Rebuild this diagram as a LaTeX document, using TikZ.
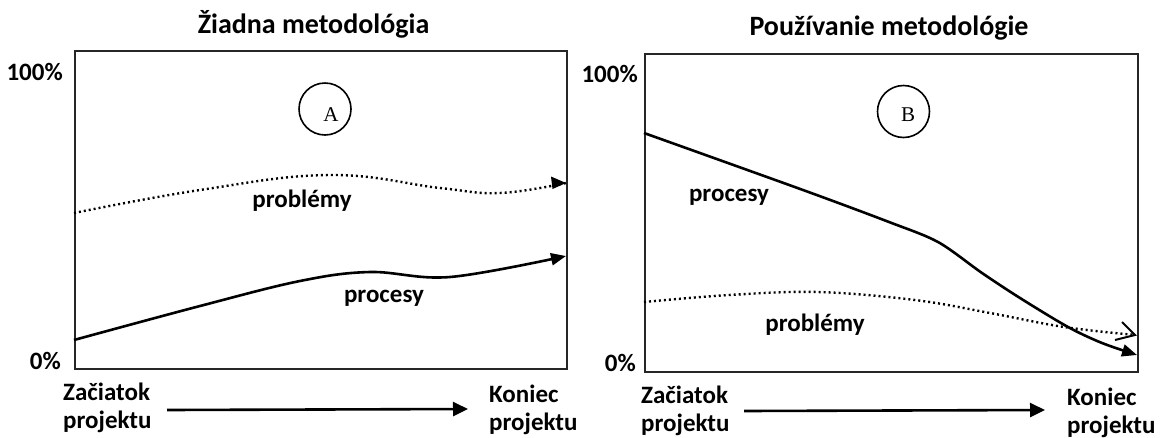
\documentclass[tikz,border=0pt]{standalone}
\usepackage{fontspec}
\setmainfont{Carlito}
\newfontfamily\serifA{Liberation Serif}
\usetikzlibrary{arrows.meta}
\begin{document}
\begin{tikzpicture}[x=1pt,y=-1pt,
  lbl/.style={font=\bfseries\fontsize{25}{28}\selectfont, inner sep=0pt, align=left},
  ttl/.style={font=\bfseries\fontsize{28}{30}\selectfont, inner sep=0pt},
  frame/.style={draw=black!85, line width=2pt},
  curve/.style={line width=2.6pt, -{Triangle[length=15pt,width=12pt]}},
  dots/.style={line width=2.4pt, dash pattern=on 2pt off 3pt},
  circ/.style={circle, draw, line width=1.6pt, minimum size=52pt, inner sep=0pt},
  letter/.style={font=\serifA\fontsize{21}{22}\selectfont, inner sep=0pt},
  axarr/.style={line width=2.6pt, -{Triangle[length=15pt,width=14pt]}}]
\useasboundingbox (0,0) rectangle (1161,437);
\fill[white] (0,0) rectangle (1161,437);

% ---------- left panel ----------
\node[ttl, anchor=base] (t1) at (313.5,33) {Žiadna metodológia};
\node[frame, draw, inner sep=0pt, minimum width=492pt, minimum height=318pt, anchor=north west] (box1) at (74,50) {};
\node[lbl, anchor=base east] (h1) at (63,80) {100\%};
\node[lbl, anchor=base east] (z1) at (61,369) {0\%};
\node[circ] (cA) at (325,109) {};
\node[letter] (lA) at (331,115) {A};

\coordinate (p1a) at (74,213);
\coordinate (p1b) at (200,190);
\coordinate (p1c) at (330,175);
\coordinate (p1d) at (440,188);
\coordinate (p1e) at (500,193);
\coordinate (p1f) at (566,183);
\draw[dots] plot[smooth, tension=0.7] coordinates {(p1a) (p1b) (p1c) (p1d) (p1e) (p1f)};
\fill (p1f) -- ++(-15,-6.5) -- ++(1.5,12.5) -- cycle;
\node[lbl, anchor=base] (lp1) at (302,207) {problémy};

\coordinate (r1a) at (74,340);
\coordinate (r1b) at (200,306);
\coordinate (r1c) at (300,281);
\coordinate (r1d) at (370,272);
\coordinate (r1e) at (450,277);
\coordinate (r1f) at (566,256);
\draw[curve] plot[smooth, tension=0.6] coordinates {(r1a) (r1b) (r1c) (r1d) (r1e) (r1f)};
\node[lbl, anchor=base] (lr1) at (384,302) {procesy};

\node[lbl, anchor=base west] (s1) at (63,428) {Začiatok\\projektu};
\node[lbl, anchor=base west] (e1) at (489,430) {Koniec\\projektu};
\coordinate (a1s) at (167,410);
\coordinate (a1e) at (468,409);
\draw[axarr] (a1s) -- (a1e);

% ---------- right panel ----------
\node[ttl, anchor=base] (t2) at (889,35) {Používanie metodológie};
\node[frame, draw, inner sep=0pt, minimum width=493pt, minimum height=318pt, anchor=north west] (box2) at (644,53) {};
\node[lbl, anchor=base east] (h2) at (638,82) {100\%};
\node[lbl, anchor=base east] (z2) at (636,371) {0\%};
\node[circ] (cB) at (903.5,111.5) {};
\node[letter] (lB) at (908,115) {B};

\coordinate (r2a) at (644,133);
\coordinate (r2b) at (803,190);
\coordinate (r2c) at (889,222);
\coordinate (r2d) at (938,242);
\coordinate (r2e) at (982,273);
\coordinate (r2f) at (1020,298);
\coordinate (r2g) at (1068,327);
\coordinate (r2h) at (1102,343);
\coordinate (r2i) at (1137,355);
\draw[curve] plot[smooth, tension=0.5] coordinates {(r2a) (r2b) (r2c) (r2d) (r2e) (r2f) (r2g) (r2h) (r2i)};
\node[lbl, anchor=base] (lr2) at (729,201) {procesy};

\coordinate (p2a) at (644,302);
\coordinate (p2b) at (729,295);
\coordinate (p2c) at (818,292);
\coordinate (p2d) at (915,300);
\coordinate (p2e) at (990,313);
\coordinate (p2f) at (1064,327);
\coordinate (p2g) at (1135,335);
\draw[dots] plot[smooth, tension=0.6] coordinates {(p2a) (p2b) (p2c) (p2d) (p2e) (p2f) (p2g)};
\coordinate (b2u) at (1122,322);
\coordinate (b2d) at (1115,340);
\draw[line width=2pt] (b2u) -- (p2g) -- (b2d);
\node[lbl, anchor=base] (lp2) at (815,331) {problémy};

\node[lbl, anchor=base west] (s2) at (641,431) {Začiatok\\projektu};
\node[lbl, anchor=base west] (e2) at (1067,433) {Koniec\\projektu};
\coordinate (a2s) at (744,411);
\coordinate (a2e) at (1045,410);
\draw[axarr] (a2s) -- (a2e);
\end{tikzpicture}
\end{document}
